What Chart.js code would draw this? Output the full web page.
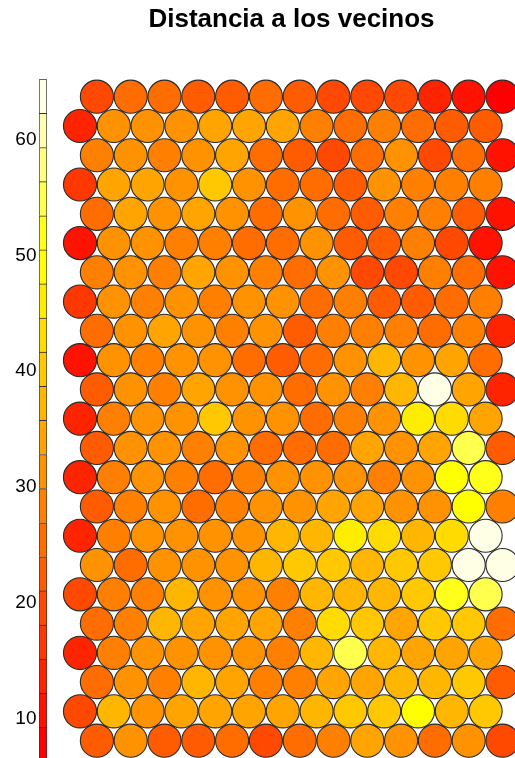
<!DOCTYPE html>
<html>
<head>
<meta charset="utf-8">
<script src="https://cdn.jsdelivr.net/npm/chart.js@4.4.1/dist/chart.umd.min.js"></script>
<style>
  html, body { margin: 0; padding: 0; background: #ffffff; }
  #wrap { position: relative; width: 515px; height: 758px; overflow: hidden; background: #ffffff; }
  #grid, #key { position: absolute; left: 0; top: 0; }
</style>
</head>
<body>
<div id="wrap">
  <canvas id="grid" width="515" height="758"></canvas>
  <canvas id="key" width="60" height="758"></canvas>
</div>
<script>
// Neighbour distance of every SOM unit, one array per grid row (top to bottom)
const r01 = [19.5, 25.1, 25.8, 22.4, 22.9, 25.3, 23.2, 19.8, 20.4, 19.1, 13.5, 10.8, 6.3];
const r02 = [13.2, 31.0, 31.9, 30.4, 33.6, 34.2, 33.9, 28.1, 25.6, 28.7, 26.5, 22.7, 23.1];
const r03 = [28.2, 31.5, 27.6, 30.9, 34.1, 25.0, 22.2, 19.4, 25.7, 31.6, 20.1, 25.5, 11.0];
const r04 = [16.5, 34.4, 33.8, 31.2, 40.3, 30.6, 25.9, 24.8, 22.6, 30.2, 28.0, 29.1, 28.7];
const r05 = [24.6, 34.0, 32.2, 33.3, 31.4, 25.2, 30.8, 25.9, 22.0, 28.3, 27.5, 22.8, 10.5];
const r06 = [10.9, 31.3, 32.0, 28.5, 27.8, 25.1, 24.3, 31.7, 22.1, 23.3, 28.9, 19.7, 11.3];
const r07 = [28.0, 31.0, 27.3, 34.5, 30.5, 28.6, 25.3, 31.1, 19.3, 20.2, 28.1, 25.0, 10.2];
const r08 = [17.0, 31.8, 28.2, 30.7, 27.9, 31.4, 30.9, 24.7, 28.8, 22.3, 21.9, 25.6, 27.7];
const r09 = [25.3, 31.2, 33.5, 30.4, 28.4, 31.6, 22.6, 27.4, 28.1, 28.6, 24.5, 27.9, 13.9];
const r10 = [10.4, 30.9, 29.5, 31.5, 30.3, 25.7, 22.5, 26.1, 31.9, 37.0, 30.6, 34.0, 25.2];
const r11 = [22.0, 32.5, 28.3, 34.2, 31.0, 30.7, 25.6, 31.4, 28.0, 37.8, 63.4, 34.6, 13.6];
const r12 = [13.0, 28.5, 31.2, 30.1, 40.0, 31.5, 30.8, 25.3, 28.9, 31.0, 46.0, 43.0, 34.1];
const r13 = [23.0, 31.1, 32.4, 28.0, 31.7, 25.8, 26.2, 25.0, 34.5, 31.3, 33.9, 55.0, 22.3];
const r14 = [12.8, 28.3, 31.4, 28.8, 25.4, 27.7, 31.0, 32.0, 30.5, 28.2, 31.8, 49.2, 51.7];
const r15 = [22.8, 27.6, 30.9, 25.7, 28.6, 31.2, 32.1, 34.0, 33.4, 31.5, 30.8, 49.5, 28.1];
const r16 = [13.4, 28.7, 31.0, 32.3, 31.5, 30.6, 37.4, 38.0, 45.8, 43.3, 37.1, 42.6, 63.9];
const r17 = [31.2, 25.5, 30.8, 32.0, 31.4, 37.5, 40.6, 41.2, 37.9, 40.0, 41.0, 65.2, 63.0];
const r18 = [19.6, 28.2, 27.5, 37.3, 31.0, 30.3, 28.1, 36.9, 37.6, 38.2, 39.5, 51.3, 54.6];
const r19 = [25.1, 28.5, 36.0, 34.4, 34.1, 35.2, 27.6, 42.0, 40.1, 34.6, 40.5, 39.8, 24.5];
const r20 = [13.1, 28.9, 31.3, 32.6, 30.5, 31.1, 28.3, 37.1, 55.2, 36.8, 34.2, 33.6, 34.9];
const r21 = [25.2, 31.6, 28.0, 36.6, 34.0, 27.8, 28.6, 35.4, 34.1, 37.4, 37.8, 40.4, 22.2];
const r22 = [20.0, 37.6, 31.1, 34.3, 33.9, 34.5, 35.0, 37.2, 40.0, 39.6, 49.8, 36.9, 40.7];
const r23 = [23.6, 31.2, 22.3, 21.8, 25.5, 19.9, 25.0, 28.5, 33.7, 31.0, 25.3, 31.4, 20.3];

const unitRows = [r01, r02, r03, r04, r05, r06, r07, r08, r09, r10, r11, r12,
                  r13, r14, r15, r16, r17, r18, r19, r20, r21, r22, r23];

const chartTitle = 'Distancia a los vecinos';
const keyTicks = [10, 20, 30, 40, 50, 60];
const nColors = 20;

// heat palette: red -> yellow ramp, then yellow fading towards white
function heatColors(n) {
  const j = Math.floor(n / 4), i = n - j, out = [];
  for (let k = 0; k < i; k++) {
    const g = Math.round(255 * k / (i - 1));
    out.push(`rgb(255,${g},0)`);
  }
  for (let k = 0; k < j; k++) {
    const s = (1 - 1 / (2 * j)) - k * ((1 - 1 / j) / (j - 1));
    out.push(`rgb(255,255,${Math.round(255 * (1 - s))})`);
  }
  return out;
}
const palette = heatColors(nColors);

const allValues = unitRows.flat();
const zMin = Math.min(...allValues);
const zMax = Math.max(...allValues);
const binWidth = (zMax - zMin) / nColors;

function colorFor(v) {
  let k = Math.floor((v - zMin) / binWidth);
  k = Math.max(0, Math.min(nColors - 1, k));
  return palette[k];
}

// hexagonal layout: every other row shifted half a unit to the right
const units = [];
unitRows.forEach((row, r) => {
  row.forEach((v, c) => {
    units.push({ x: c + (r % 2 === 0 ? 0.5 : 0), y: r, v: v });
  });
});

const unitRadius = (ctx) => {
  const s = ctx.chart.scales.x;
  return (s.getPixelForValue(1) - s.getPixelForValue(0)) / 2 - 0.35;
};

new Chart(document.getElementById('grid'), {
  type: 'scatter',
  data: {
    datasets: [{
      data: units,
      clip: false,
      pointRadius: unitRadius,
      pointHoverRadius: unitRadius,
      pointBackgroundColor: (ctx) => colorFor(ctx.raw.v),
      pointBorderColor: '#2a2a2a',
      pointBorderWidth: 1.1,
      showLine: false
    }]
  },
  options: {
    responsive: false,
    animation: false,
    events: [],
    layout: { padding: { left: 68, right: 0, top: 0, bottom: 0 } },
    plugins: {
      legend: { display: false },
      tooltip: { enabled: false },
      title: {
        display: true,
        text: chartTitle,
        fullSize: false,
        color: '#000000',
        font: { family: '"Liberation Sans", Arial, sans-serif', size: 26, weight: 'bold', lineHeight: 1.2 },
        padding: { top: 4.7, bottom: 43.8 }
      }
    },
    scales: {
      x: { type: 'linear', display: false, min: -0.355, max: 12.870 },
      y: { type: 'linear', display: false, reverse: true, min: -0.581, max: 22.593 }
    }
  }
});

// colour key: one floating bar per palette step
const keyDatasets = palette.map((col, k) => ({
  data: [[zMin + k * binWidth, zMin + (k + 1) * binWidth]],
  backgroundColor: col,
  borderColor: '#333333',
  borderWidth: { top: 1, bottom: 0, left: 1, right: 1 },
  borderSkipped: false,
  grouped: false,
  barPercentage: 1,
  categoryPercentage: 1
}));

new Chart(document.getElementById('key'), {
  type: 'bar',
  data: { labels: [''], datasets: keyDatasets },
  options: {
    responsive: false,
    animation: false,
    events: [],
    layout: { padding: { left: 0, right: 13, top: 79.3, bottom: 0 } },
    plugins: { legend: { display: false }, tooltip: { enabled: false }, title: { display: false } },
    scales: {
      x: { display: false },
      y: {
        min: 6.6,
        max: zMax,
        position: 'left',
        border: { display: false },
        grid: { display: false, drawTicks: false },
        afterFit: (scale) => {
          scale.width = 39;
          scale.paddingTop = 0;
          scale.paddingBottom = 0;
        },
        afterBuildTicks: (scale) => { scale.ticks = keyTicks.map(v => ({ value: v })); },
        ticks: {
          padding: 2.5,
          color: '#000000',
          font: { family: '"Liberation Sans", Arial, sans-serif', size: 19 }
        }
      }
    }
  }
});
</script>
</body>
</html>
